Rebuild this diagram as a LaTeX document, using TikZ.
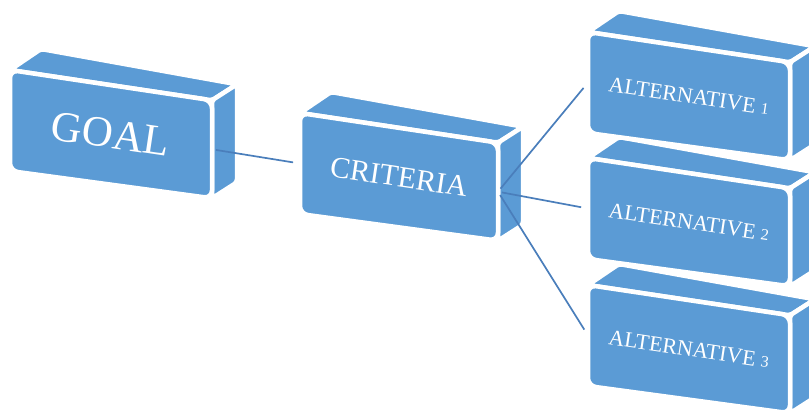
\documentclass[tikz,border=0pt]{standalone}
\usepackage{fontspec}
\setmainfont{Liberation Serif}
\usetikzlibrary{calc}
\definecolor{boxblue}{HTML}{5B9BD5}
\definecolor{lineblue}{HTML}{4A7EBB}
\tikzset{
  face/.style={fill=boxblue, draw=white, line width=4.5pt, line join=round},
  frontface/.style={face, rounded corners=8pt},
  sideface/.style={face, rounded corners=3pt},
  boxtext/.style={text=white, rotate=-8.5, inner sep=0pt},
  link/.style={draw=lineblue, line width=1.7pt, shorten <=4pt, shorten >=7pt},
}
\newcommand{\drawcube}[5]{%
  \begin{scope}[shift={(#2,#3)}]
    \pgfmathsetmacro{\cS}{0.15*#4}
    \coordinate (#1-A) at (0,0);
    \coordinate (#1-B) at (#4,\cS);
    \coordinate (#1-C) at (#4,\cS+98);
    \coordinate (#1-D) at (0,101);
    \path[sideface] (#1-A) -- ++(31,-21) -- ($(#1-B)+(25,-16)$) -- (#1-B) -- cycle;
    \path[sideface] (#1-B) -- ($(#1-B)+(25,-16)$) -- ($(#1-C)+(25,-16)$) -- (#1-C) -- cycle;
    \path[frontface] (#1-A) -- (#1-B) -- (#1-C) -- (#1-D) -- cycle;
    \coordinate (#1-in) at ($(#1-A)!0.5!(#1-D)$);
    \coordinate (#1-out) at ($(#1-B)!0.5!(#1-C)$);
    \node[boxtext] (#1) at ($(#1-A)!0.5!(#1-C)$) {#5};
  \end{scope}}
\begin{document}
\begin{tikzpicture}[x=1pt,y=-1pt]
  \useasboundingbox (0,0) rectangle (809,410);
  \clip (0,0) rectangle (809,410);
  \drawcube{goal}{10}{70}{202}{\fontsize{43}{43}\selectfont GOAL}
  \drawcube{crit}{300}{113}{198}{\fontsize{30}{30}\selectfont CRITERIA}
  \drawcube{alt3}{588}{285}{202}{\fontsize{22}{22}\selectfont ALTERNATIVE {\fontsize{16}{16}\selectfont 3}}
  \drawcube{alt2}{588}{158}{202}{\fontsize{22}{22}\selectfont ALTERNATIVE {\fontsize{16}{16}\selectfont 2}}
  \drawcube{alt1}{588}{32}{202}{\fontsize{22}{22}\selectfont ALTERNATIVE {\fontsize{16}{16}\selectfont 1}}
  \draw[link] (goal-out) -- (crit-in);
  \draw[link] (crit-out) -- (alt1-in);
  \draw[link] (crit-out) -- (alt2-in);
  \draw[link] (crit-out) -- (alt3-in);
\end{tikzpicture}
\end{document}
